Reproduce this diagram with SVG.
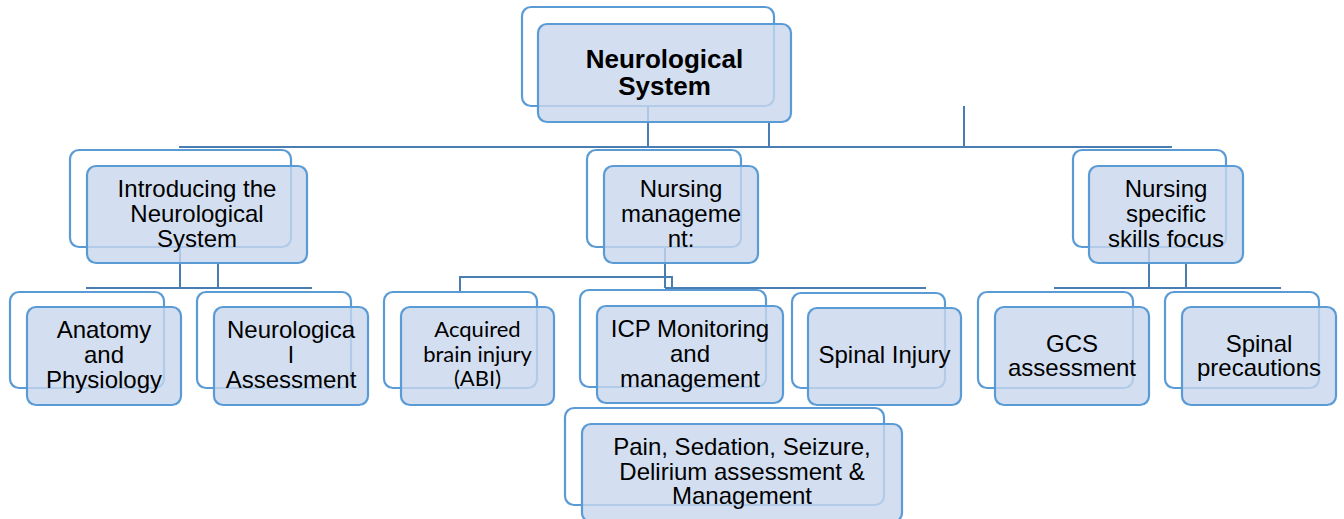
<svg xmlns="http://www.w3.org/2000/svg" width="1344" height="519" viewBox="0 0 1344 519">
<style>
.bk{fill:#ffffff;stroke:#5b9bd5;stroke-width:2.2}
.fr{fill:#c8d7ec;fill-opacity:0.8;stroke:#5b9bd5;stroke-width:2.2}
.t{font-family:"Liberation Sans",Arial,sans-serif;font-size:24px;fill:#000;text-anchor:middle}
.tb{font-family:"Liberation Sans",Arial,sans-serif;font-size:26px;font-weight:bold;fill:#000;text-anchor:middle}
.tc{font-family:Lato,"Open Sans",sans-serif;font-size:22px;fill:#000;text-anchor:middle}
.c{fill:none;stroke:#4a7eb3;stroke-width:2}
</style>
<rect width="1344" height="519" fill="#ffffff"/>
<g id="connectors">
<path class="c" d="M179 147H1172"/>
<path class="c" d="M648 106V147M769 122V147M964 106V147"/>
<path class="c" d="M180 247V288M218 263V288M86 288H312"/>
<path class="c" d="M665 247V288M665 288H926M460 292V277H672V288"/>
<path class="c" d="M1149 247V288M1186 263V288M1054 288H1281"/>
</g>
<g id="n-root">
<rect class="bk" x="522" y="7" width="252" height="99" rx="9"/>
<rect class="fr" x="538" y="24" width="253" height="98" rx="9"/>
<text class="tb" x="664.5" y="68">Neurological</text>
<text class="tb" x="664.5" y="95">System</text>
</g>
<g id="n-intro">
<rect class="bk" x="70" y="150" width="221" height="97" rx="9"/>
<rect class="fr" x="87" y="166" width="220" height="97" rx="9"/>
<text class="t" x="197" y="197">Introducing the</text>
<text class="t" x="197" y="222">Neurological</text>
<text class="t" x="197" y="247">System</text>
</g>
<g id="n-nursing">
<rect class="bk" x="587" y="150" width="154" height="97" rx="9"/>
<rect class="fr" x="604" y="166" width="154" height="97" rx="9"/>
<text class="t" x="681" y="197">Nursing</text>
<text class="t" x="681" y="222">manageme</text>
<text class="t" x="681" y="247">nt:</text>
</g>
<g id="n-skills">
<rect class="bk" x="1073" y="150" width="153" height="97" rx="9"/>
<rect class="fr" x="1089" y="166" width="154" height="97" rx="9"/>
<text class="t" x="1166" y="197">Nursing</text>
<text class="t" x="1166" y="222">specific</text>
<text class="t" x="1166" y="247">skills focus</text>
</g>
<g id="n-anatomy">
<rect class="bk" x="10" y="292" width="154" height="96" rx="9"/>
<rect class="fr" x="27" y="307" width="154" height="98" rx="9"/>
<text class="t" x="104" y="338">Anatomy</text>
<text class="t" x="104" y="363">and</text>
<text class="t" x="104" y="388">Physiology</text>
</g>
<g id="n-assess">
<rect class="bk" x="197" y="292" width="154" height="96" rx="9"/>
<rect class="fr" x="214" y="307" width="154" height="98" rx="9"/>
<text class="t" x="291" y="338">Neurologica</text>
<text class="t" x="291" y="363">l</text>
<text class="t" x="291" y="388">Assessment</text>
</g>
<g id="n-abi">
<rect class="bk" x="384" y="292" width="153" height="96" rx="9"/>
<rect class="fr" x="401" y="307" width="153" height="98" rx="9"/>
<text class="tc" x="477.5" y="337">Acquired</text>
<text class="tc" x="477.5" y="362">brain injury</text>
<text class="tc" x="477.5" y="386">(ABI)</text>
</g>
<g id="n-icp">
<rect class="bk" x="580" y="290" width="186" height="97" rx="9"/>
<rect class="fr" x="597" y="306" width="186" height="97" rx="9"/>
<text class="t" x="690" y="337">ICP Monitoring</text>
<text class="t" x="690" y="362">and</text>
<text class="t" x="690" y="387">management</text>
</g>
<g id="n-spinal">
<rect class="bk" x="792" y="293" width="153" height="95" rx="9"/>
<rect class="fr" x="808" y="308" width="153" height="97" rx="9"/>
<text class="t" x="884.5" y="363">Spinal Injury</text>
</g>
<g id="n-pain">
<rect class="bk" x="565" y="408" width="319" height="97" rx="9"/>
<rect class="fr" x="582" y="424" width="320" height="98" rx="9"/>
<text class="t" x="742" y="455">Pain, Sedation, Seizure,</text>
<text class="t" x="742" y="480">Delirium assessment &amp;</text>
<text class="t" x="742" y="504">Management</text>
</g>
<g id="n-gcs">
<rect class="bk" x="978" y="292" width="155" height="96" rx="9"/>
<rect class="fr" x="995" y="307" width="154" height="98" rx="9"/>
<text class="t" x="1072" y="352">GCS</text>
<text class="t" x="1072" y="376">assessment</text>
</g>
<g id="n-precautions">
<rect class="bk" x="1165" y="292" width="154" height="96" rx="9"/>
<rect class="fr" x="1182" y="307" width="154" height="98" rx="9"/>
<text class="t" x="1259" y="352">Spinal</text>
<text class="t" x="1259" y="376">precautions</text>
</g>
</svg>
